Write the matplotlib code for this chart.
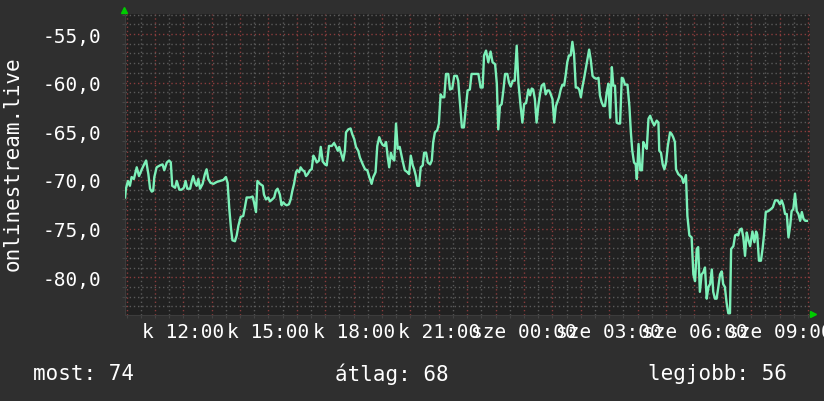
import matplotlib
matplotlib.use("Agg")
import matplotlib.pyplot as plt
import numpy as np

# hours since Tuesday 00:00 (24 = Wednesday 00:00)
hours = [
    9.95, 9.98, 10.05, 10.12, 10.18, 10.26, 10.36, 10.44, 10.54, 10.62, 10.69, 10.77,
    10.83, 10.89, 10.94, 10.98, 11.06, 11.18, 11.27, 11.33, 11.42, 11.50, 11.56, 11.61,
    11.71, 11.77, 11.86, 11.94, 12.02, 12.08, 12.14, 12.24, 12.30, 12.35, 12.41, 12.47,
    12.53, 12.59, 12.68, 12.76, 12.82, 12.88, 12.96, 13.06, 13.18, 13.29, 13.41, 13.50,
    13.56, 13.62, 13.68, 13.73, 13.82, 13.88, 13.94, 14.02, 14.11, 14.17, 14.23,
    14.35, 14.44, 14.49, 14.56, 14.61, 14.70, 14.80, 14.84, 14.91, 14.99, 15.05, 15.13,
    15.20, 15.26, 15.32, 15.40, 15.46, 15.52, 15.58, 15.64, 15.72, 15.78, 15.84, 15.90,
    15.97, 16.01, 16.08, 16.13, 16.20, 16.26, 16.32, 16.38, 16.46, 16.52, 16.58, 16.64,
    16.70, 16.78, 16.84, 16.91, 16.99, 17.05, 17.13, 17.23, 17.31, 17.38, 17.44, 17.49,
    17.55, 17.63, 17.69, 17.73, 17.81, 17.89, 17.95, 18.02, 18.08, 18.16, 18.22, 18.32,
    18.40, 18.48, 18.55, 18.63, 18.69, 18.77, 18.83, 18.90, 18.96, 19.02, 19.08, 19.14,
    19.20, 19.25, 19.31, 19.37, 19.43, 19.49, 19.55,
    19.62, 19.72, 19.80, 19.89, 19.95, 20.01, 20.08, 20.13, 20.19, 20.24, 20.30, 20.36,
    20.43, 20.48, 20.55, 20.61, 20.69, 20.75, 20.80, 20.86, 20.94, 21.00, 21.06, 21.12,
    21.19, 21.25, 21.33, 21.39, 21.47, 21.54, 21.63, 21.68, 21.74, 21.81, 21.88, 21.95,
    22.01, 22.09, 22.15, 22.27, 22.39, 22.47, 22.54, 22.59, 22.66, 22.74, 22.82, 22.89,
    22.98, 23.04, 23.09, 23.15, 23.21, 23.27, 23.33, 23.41, 23.47, 23.53, 23.60, 23.67,
    23.74, 23.80, 23.88, 23.94, 24.00, 24.07, 24.15, 24.21, 24.27, 24.32, 24.38, 24.44,
    24.50, 24.56, 24.62, 24.70, 24.76, 24.82, 24.88, 24.94, 25.00, 25.06, 25.12, 25.17,
    25.23, 25.29, 25.35, 25.41, 25.47, 25.52, 25.58, 25.64, 25.70, 25.76, 25.82, 25.88,
    25.94, 26.00, 26.05, 26.11, 26.17, 26.23, 26.29, 26.35, 26.41, 26.47, 26.54, 26.62,
    26.67, 26.73, 26.79, 26.85, 26.91, 26.97, 27.03, 27.09, 27.14, 27.20, 27.26, 27.32,
    27.38, 27.44, 27.49, 27.55, 27.64, 27.71, 27.76, 27.81, 27.87, 27.93, 27.97, 28.03,
    28.09, 28.15, 28.20, 28.26, 28.32, 28.38, 28.44, 28.50, 28.58, 28.67, 28.73, 28.76,
    28.82, 28.88, 28.94, 29.00, 29.06, 29.14, 29.20, 29.25, 29.31, 29.35,
    29.43, 29.55, 29.61, 29.70, 29.75, 29.82, 29.90, 29.96, 30.02, 30.08, 30.13, 30.19,
    30.25, 30.31, 30.37, 30.43, 30.49, 30.55, 30.61, 30.66, 30.72, 30.78, 30.84, 30.90,
    30.96, 31.01, 31.07, 31.13, 31.19, 31.25, 31.29, 31.37, 31.43, 31.49, 31.54, 31.60,
    31.66, 31.72, 31.78, 31.84, 31.90, 31.96, 32.04, 32.11, 32.17, 32.21, 32.27, 32.34,
    32.40, 32.45, 32.51, 32.60, 32.69, 32.76, 32.84, 32.93, 33.01, 33.07, 33.13, 33.19,
    33.25, 33.31, 33.37, 33.42, 33.48, 33.54, 33.60, 33.66, 33.72, 33.78, 33.84, 33.90,
    33.96,
]

values = [
    -71.8, -70.9, -70.1, -70.6, -69.7, -69.9, -68.7, -69.6, -68.9, -68.4, -68.0, -69.4,
    -70.9, -71.2, -71.1, -69.7, -68.7, -68.5, -68.4, -69.0, -68.2, -68.0, -68.2, -70.6,
    -70.8, -70.1, -71.0, -71.0, -70.8, -70.1, -70.9, -70.9, -70.1, -69.6, -70.3, -70.6,
    -69.9, -70.9, -70.4, -69.4, -68.9, -69.9, -70.3, -70.4, -70.2, -70.1, -70.0, -69.7,
    -70.3, -73.0, -75.0, -76.2, -76.3, -75.7, -74.7, -73.8, -73.7, -72.8, -71.8,
    -71.8, -71.7, -72.3, -73.3, -70.1, -70.4, -70.6, -71.5, -72.0, -71.8, -72.2, -72.0,
    -71.8, -71.1, -70.9, -71.5, -72.6, -72.3, -72.5, -72.6, -72.5, -72.0, -71.1, -70.4,
    -69.2, -69.0, -69.2, -68.7, -69.0, -69.1, -69.6, -69.4, -69.0, -68.9, -67.5, -67.8,
    -68.2, -68.0, -66.6, -68.1, -68.4, -68.5, -66.5, -66.5, -66.2, -66.6, -67.0, -66.6,
    -67.2, -68.0, -67.0, -65.1, -64.8, -64.7, -65.3, -65.8, -66.6, -67.0, -67.7, -68.4,
    -68.9, -69.0, -69.7, -70.4, -69.7, -69.2, -66.5, -65.6, -66.1, -66.4, -66.5, -66.1,
    -67.7, -68.7, -67.2, -67.8, -68.0, -64.2, -66.8,
    -66.6, -68.0, -69.0, -69.2, -69.4, -67.5, -68.5, -68.9, -69.6, -70.6, -70.6, -68.7,
    -68.5, -67.2, -67.2, -68.2, -68.4, -68.0, -66.1, -65.1, -64.9, -64.2, -61.2, -61.5,
    -61.5, -59.1, -59.1, -60.7, -60.6, -59.3, -59.3, -59.8, -62.0, -64.6, -64.6, -62.5,
    -60.8, -60.7, -59.1, -59.1, -59.1, -60.5, -60.5, -57.2, -56.7, -57.9, -56.8, -57.9,
    -58.1, -60.1, -64.8, -62.4, -62.2, -60.8, -59.1, -59.1, -60.0, -60.4, -59.8, -59.8,
    -56.2, -60.0, -62.5, -64.1, -62.2, -62.1, -60.7, -61.3, -60.6, -60.7, -61.7, -64.1,
    -62.4, -61.2, -60.3, -60.1, -61.2, -60.8, -60.8, -61.2, -61.7, -64.1, -62.4, -62.0,
    -61.5, -60.7, -60.2, -60.3, -59.1, -57.9, -57.2, -57.2, -55.8, -57.1, -60.5, -60.5,
    -60.7, -61.5, -60.5, -59.6, -58.6, -57.6, -56.6, -57.7, -59.3, -59.5, -59.6, -59.5,
    -61.3, -62.0, -62.4, -62.4, -61.0, -60.1, -63.6, -58.4, -60.3, -60.3, -64.1, -64.2,
    -64.2, -59.5, -59.6, -60.2, -60.2, -62.5, -65.1, -67.0, -68.2, -68.4, -69.9, -66.3,
    -69.0, -69.0, -66.1, -66.5, -66.8, -63.7, -63.4, -63.9, -64.4, -63.9, -64.1, -67.0,
    -67.2, -68.4, -68.9, -68.2, -66.5, -65.1, -65.3, -65.6, -66.1, -68.9,
    -69.4, -69.7, -70.3, -69.5, -73.7, -75.7, -75.9, -79.7, -80.4, -77.1, -76.9, -81.5,
    -79.7, -79.5, -79.0, -82.2, -81.0, -80.7, -79.2, -81.5, -82.2, -82.2, -81.0, -79.7,
    -79.4, -80.7, -81.0, -82.6, -83.7, -83.7, -77.1, -76.8, -75.7, -75.6, -75.7, -75.1,
    -75.0, -75.9, -77.8, -75.4, -76.2, -76.8, -75.3, -76.4, -75.3, -75.6, -78.3, -78.3,
    -77.0, -75.6, -73.3, -73.2, -73.0, -72.8, -72.1, -72.1, -72.5, -72.1, -72.6, -73.5,
    -73.5, -75.9, -74.7, -73.2, -73.0, -71.4, -73.2, -73.5, -74.2, -73.3, -74.0, -74.2,
    -74.2,
]

label_hours = [12, 15, 18, 21, 24, 27, 30, 33]
label_texts = ["k 12:00", "k 15:00", "k 18:00", "k 21:00",
               "sze 00:00", "sze 03:00", "sze 06:00", "sze 09:00"]
y_ticks = [-80, -75, -70, -65, -60, -55]
series_name = "onlinestream.live"
summary = [("most", 74), ("átlag", 68), ("legjobb", 56)]

BG = "#2f2f2f"
PLOT_BG = "#212121"
FONT = "DejaVu Sans Mono"

fig = plt.figure(figsize=(8.24, 4.02), dpi=100, facecolor=BG)
ax = fig.add_axes([125 / 824, 86 / 402, 684.5 / 824, 301 / 402])
ax.set_facecolor(PLOT_BG)

ax.plot(hours, values, color="#7cf0b8", lw=1.7, zorder=3)

ax.set_xlim(9.947, 34.05)
ax.set_ylim(-83.88, -52.94)

ax.set_yticks(y_ticks)
ax.set_yticklabels([f"{v:.1f}".replace(".", ",") for v in y_ticks])
ax.set_yticks(np.arange(-83, -52), minor=True)

hour_ticks = np.arange(10, 35)
ax.set_xticks(hour_ticks)
ax.set_xticklabels([label_texts[label_hours.index(h)] if h in label_hours else "" for h in hour_ticks])
ax.set_xticks(np.arange(10, 34.5, 0.5), minor=True)

# rrdtool style dotted grid: red-ish major, grey minor
ax.grid(which="major", color="#8a3c3c", linestyle=(0, (1, 2)), lw=1.0)
ax.grid(which="minor", color="#5a5a5a", linestyle=(0, (1, 2)), lw=1.0)
ax.set_axisbelow(True)

for s in ["top", "right"]:
    ax.spines[s].set_visible(False)
for s in ["left", "bottom"]:
    ax.spines[s].set_color("#3c3c3c")

ax.tick_params(which="both", colors="#444444", length=2, width=0.8)
ax.tick_params(axis="y", which="major", labelcolor="white", pad=15)
ax.tick_params(axis="x", which="major", labelcolor="white", pad=3)
for lab in ax.get_xticklabels() + ax.get_yticklabels():
    lab.set_fontfamily(FONT)
    lab.set_fontsize(14)

fig.text(13 / 824, 1 - 164 / 402, series_name, rotation=90, ha="center", va="center",
         color="white", fontsize=15, fontfamily=FONT)

for (name, val), x0 in zip(summary, [33, 335, 648]):
    fig.text(x0 / 824, 1 - 374 / 402, f"{name}: {val}", ha="left", va="center",
             color="white", fontsize=15, fontfamily=FONT)

# green axis arrows
fig.add_artist(plt.Line2D([124.5 / 824], [1 - 11 / 402], marker="^", ms=5,
                          color="#00cc00", transform=fig.transFigure))
fig.add_artist(plt.Line2D([813 / 824], [1 - 315 / 402], marker=">", ms=5,
                          color="#00cc00", transform=fig.transFigure))

fig.savefig("out.png", dpi=100, facecolor=BG)
